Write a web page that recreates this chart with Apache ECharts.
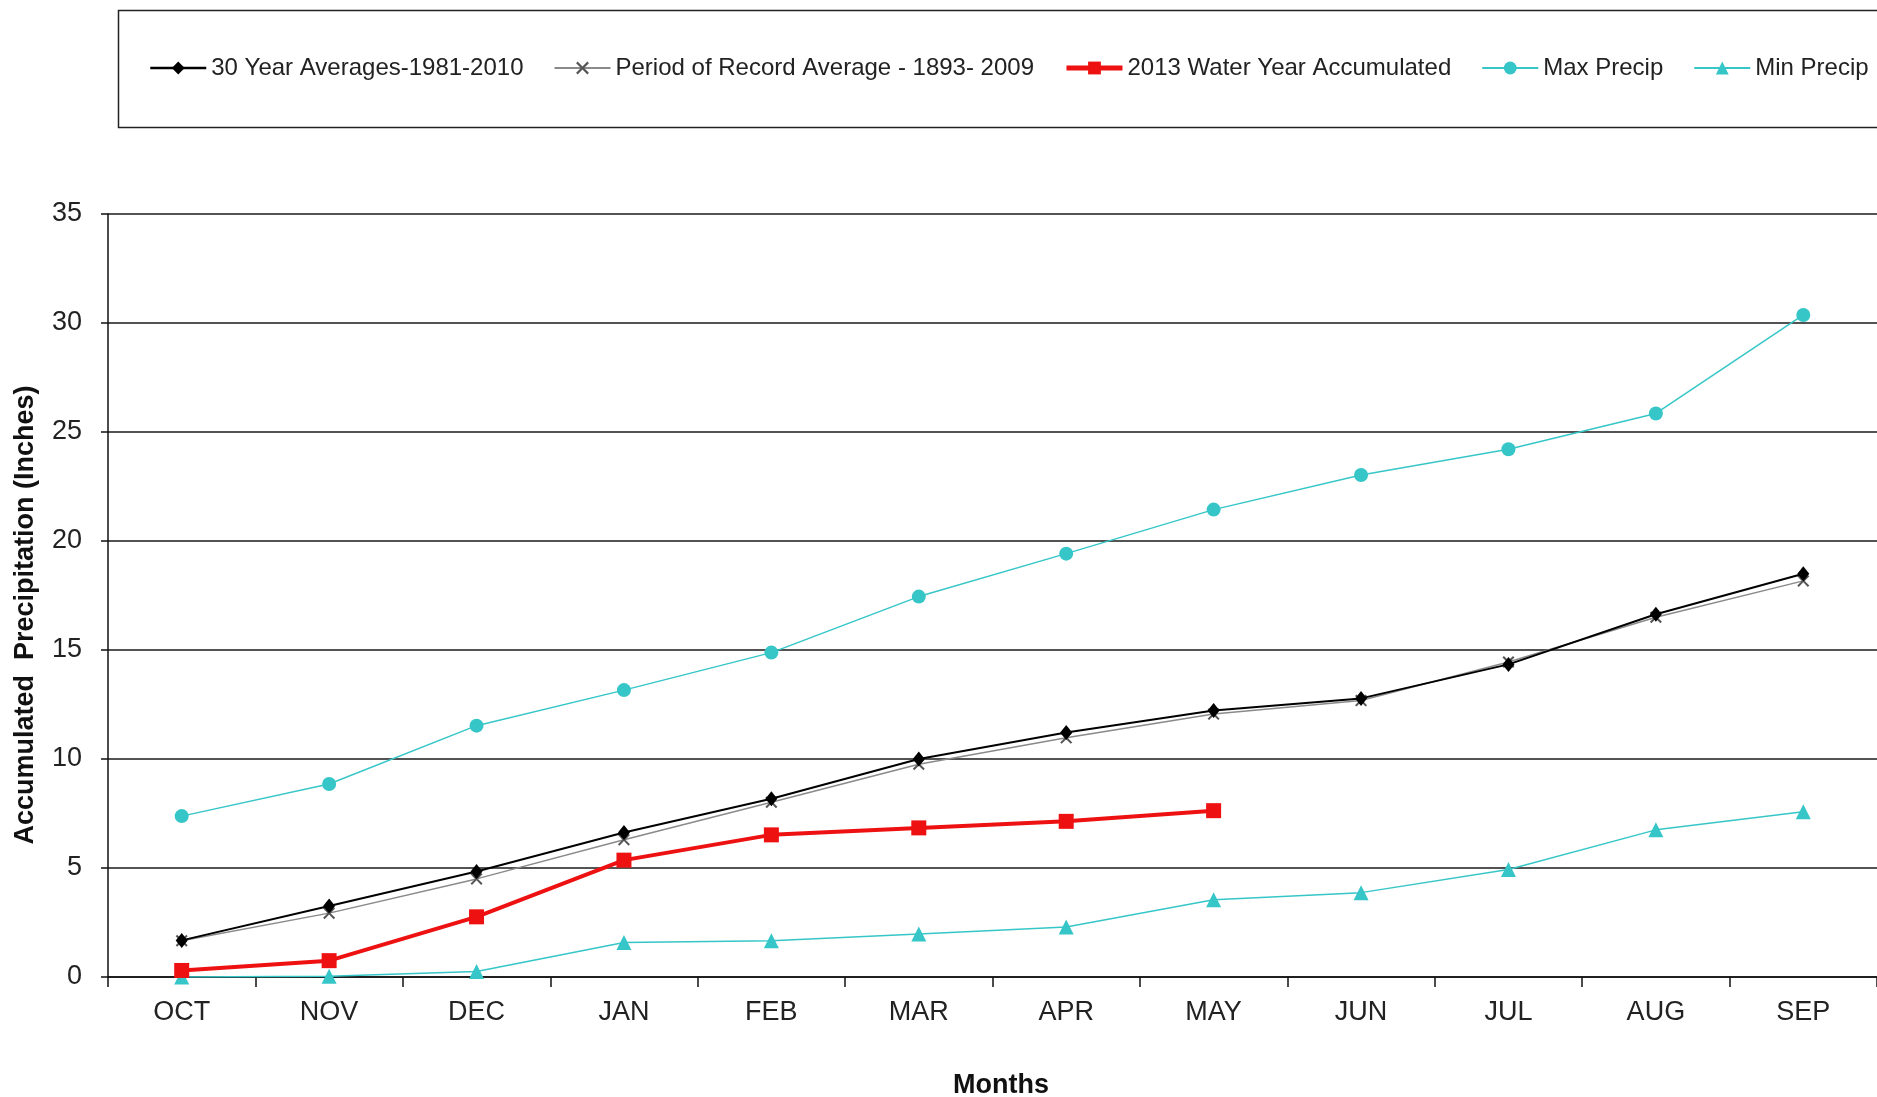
<!DOCTYPE html>
<html>
<head>
<meta charset="utf-8">
<script src="https://cdn.jsdelivr.net/npm/echarts@6/dist/echarts.min.js"></script>
<style>
html,body{margin:0;padding:0;background:#fff;}
#chart{width:1877px;height:1097px;}
</style>
</head>
<body>
<div id="chart"></div>
<script>
const categories = ['OCT','NOV','DEC','JAN','FEB','MAR','APR','MAY','JUN','JUL','AUG','SEP'];
const avg30 = [1.68, 3.26, 4.84, 6.63, 8.18, 10.0, 11.22, 12.23, 12.78, 14.34, 16.64, 18.5];
const periodAvg = [1.66, 2.93, 4.5, 6.3, 8.02, 9.76, 10.97, 12.06, 12.68, 14.45, 16.5, 18.17];
const wy2013 = [0.3, 0.75, 2.76, 5.36, 6.52, 6.84, 7.14, 7.63, null, null, null, null];
const maxPrecip = [7.38, 8.85, 11.53, 13.16, 14.88, 17.45, 19.42, 21.44, 23.03, 24.21, 25.85, 30.37];
const minPrecip = [0, 0.04, 0.25, 1.58, 1.66, 1.97, 2.29, 3.54, 3.87, 4.93, 6.75, 7.58];
const seriesNames = ['30 Year Averages-1981-2010','Period of Record Average - 1893- 2009','2013 Water Year Accumulated','Max Precip','Min Precip'];
const yTicks = {min: 0, max: 35, interval: 5};

const FONT = '"Liberation Sans", Arial, sans-serif';
const TEAL = '#36c6c8';
const RED = '#ee1111';
const crossPath = 'path://M0,0.12 L0.12,0 L0.5,0.38 L0.88,0 L1,0.12 L0.62,0.5 L1,0.88 L0.88,1 L0.5,0.62 L0.12,1 L0,0.88 L0.38,0.5 Z';

const chart = echarts.init(document.getElementById('chart'), null, {renderer: 'canvas'});
chart.setOption({
  animation: false,
  backgroundColor: '#fff',
  legend: {
    left: 144, top: 51,
    itemWidth: 56, itemHeight: 16, itemGap: 30,
    textStyle: {fontFamily: FONT, fontSize: 24, color: '#222'},
    data: [
      {name: seriesNames[0], lineStyle: {width: 2.5}},
      {name: seriesNames[1], lineStyle: {width: 2}},
      {name: seriesNames[2], lineStyle: {width: 5}},
      {name: seriesNames[3], lineStyle: {width: 2}},
      {name: seriesNames[4], lineStyle: {width: 2}}
    ]
  },
  graphic: [
    {type: 'rect', shape: {x: 118.5, y: 10.5, width: 1800, height: 117}, style: {fill: 'none', stroke: '#222', lineWidth: 1.5}, silent: true},
    {type: 'text', x: 26, y: 615, rotation: Math.PI/2, style: {text: 'Accumulated  Precipitation (Inches)', font: 'bold 27px ' + FONT, fill: '#111', align: 'center', verticalAlign: 'middle'}},
    {type: 'text', x: 1001, y: 1086, style: {text: 'Months', font: 'bold 27px ' + FONT, fill: '#111', align: 'center', verticalAlign: 'middle'}}
  ],
  grid: {left: 108, top: 214, width: 1776, height: 763, containLabel: false},
  xAxis: {
    type: 'category', data: categories, boundaryGap: true,
    axisLine: {lineStyle: {color: '#111', width: 1.5}},
    axisTick: {show: true, alignWithLabel: false, length: 10, lineStyle: {color: '#111', width: 1.5}},
    axisLabel: {fontFamily: FONT, fontSize: 27, color: '#222', margin: 22},
    splitLine: {show: false}
  },
  yAxis: {
    type: 'value', min: yTicks.min, max: yTicks.max, interval: yTicks.interval,
    axisLine: {show: true, lineStyle: {color: '#111', width: 1.5}},
    axisTick: {show: true, length: 7, lineStyle: {color: '#111', width: 1.5}},
    axisLabel: {fontFamily: FONT, fontSize: 27, color: '#222', margin: 26},
    splitLine: {show: true, lineStyle: {color: '#1a1a1a', width: 1.5}}
  },
  series: [
    {name: seriesNames[0], type: 'line', data: avg30, symbol: 'diamond', symbolSize: [12, 15],
     lineStyle: {color: '#000', width: 2}, itemStyle: {color: '#000'}, z: 3},
    {name: seriesNames[1], type: 'line', data: periodAvg, symbol: crossPath, symbolSize: 12,
     lineStyle: {color: '#8a8a8a', width: 1.5}, itemStyle: {color: '#555'}, z: 2},
    {name: seriesNames[2], type: 'line', data: wy2013, symbol: 'rect', symbolSize: 15, connectNulls: false,
     lineStyle: {color: RED, width: 4}, itemStyle: {color: RED}, z: 4},
    {name: seriesNames[3], type: 'line', data: maxPrecip, symbol: 'circle', symbolSize: 14,
     lineStyle: {color: TEAL, width: 1.5}, itemStyle: {color: TEAL}, z: 2},
    {name: seriesNames[4], type: 'line', data: minPrecip, symbol: 'triangle', symbolSize: 15,
     lineStyle: {color: TEAL, width: 1.5}, itemStyle: {color: TEAL}, z: 2}
  ]
});
</script>
</body>
</html>
